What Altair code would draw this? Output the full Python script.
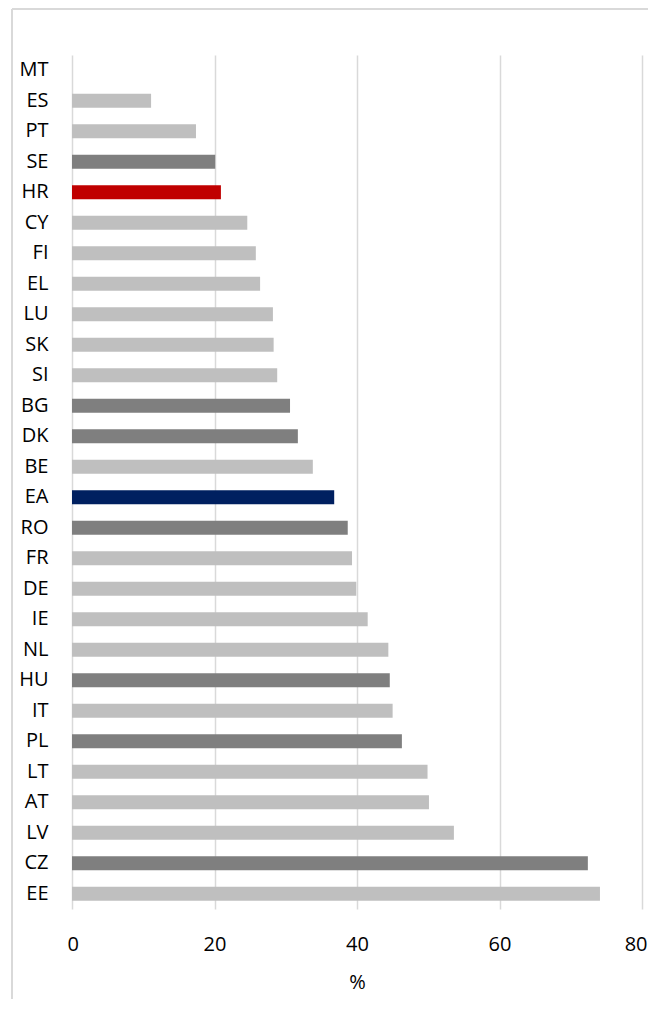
import altair as alt
import pandas as pd

countries = ["MT", "ES", "PT", "SE", "HR", "CY", "FI", "EL", "LU", "SK", "SI", "BG", "DK", "BE",
             "EA", "RO", "FR", "DE", "IE", "NL", "HU", "IT", "PL", "LT", "AT", "LV", "CZ", "EE"]
values = [0.0, 11.1, 17.4, 20.1, 20.9, 24.6, 25.8, 26.4, 28.2, 28.3, 28.8, 30.6, 31.7, 33.8,
          36.8, 38.7, 39.3, 39.9, 41.5, 44.4, 44.6, 45.0, 46.3, 49.9, 50.1, 53.6, 72.4, 74.1]
groups = ["other", "other", "other", "dark", "HR", "other", "other", "other", "other", "other",
          "other", "dark", "dark", "other", "EA", "dark", "other", "other", "other", "other",
          "dark", "other", "dark", "other", "other", "other", "dark", "other"]

group_domain = ["other", "dark", "HR", "EA"]
group_colors = ["#BFBFBF", "#7F7F7F", "#C00000", "#002060"]
x_ticks = [0, 20, 40, 60, 80]

df = pd.DataFrame({"country": countries, "value": values, "group": groups})

FONT = "Open Sans"

bars = alt.Chart(df).mark_bar().encode(
    y=alt.Y("country:N", sort=countries,
            scale=alt.Scale(paddingInner=0.54, paddingOuter=0.27),
            axis=alt.Axis(title=None, domain=False, ticks=False, grid=False,
                          labelFontSize=20, labelFont=FONT, labelColor="#000000",
                          labelPadding=24)),
    x=alt.X("value:Q", scale=alt.Scale(domain=[0, 80], nice=False),
            axis=alt.Axis(title="%", values=x_ticks, domain=False, ticks=False,
                          grid=True, gridColor="#D9D9D9", gridWidth=1.5,
                          labelFlush=True, labelFlushOffset=5,
                          labelFontSize=20, labelFont=FONT, labelColor="#000000",
                          labelPadding=25, titleFontSize=20, titleFont=FONT,
                          titleFontWeight="normal", titleColor="#000000",
                          titlePadding=18)),
    color=alt.Color("group:N", scale=alt.Scale(domain=group_domain, range=group_colors),
                    legend=None),
)

# chart border (top and left edges; the others fall outside the picture)
frame_top = alt.Chart(df).mark_rule(stroke="#D9D9D9", strokeWidth=1.5).encode(
    x=alt.value(-60), x2=alt.value(700), y=alt.value(-46)
)
frame_left = alt.Chart(df).mark_rule(stroke="#D9D9D9", strokeWidth=1.5).encode(
    x=alt.value(-60), y=alt.value(-46), y2=alt.value(1200)
)

chart = alt.layer(frame_top, frame_left, bars).properties(
    width=570, height=854,
    autosize=alt.AutoSizeParams(type="none"),
    padding={"left": 64, "top": 47, "right": 6, "bottom": 90},
).configure_view(stroke=None)

chart.save("out.html", embed_options={"renderer": "svg", "actions": False})
